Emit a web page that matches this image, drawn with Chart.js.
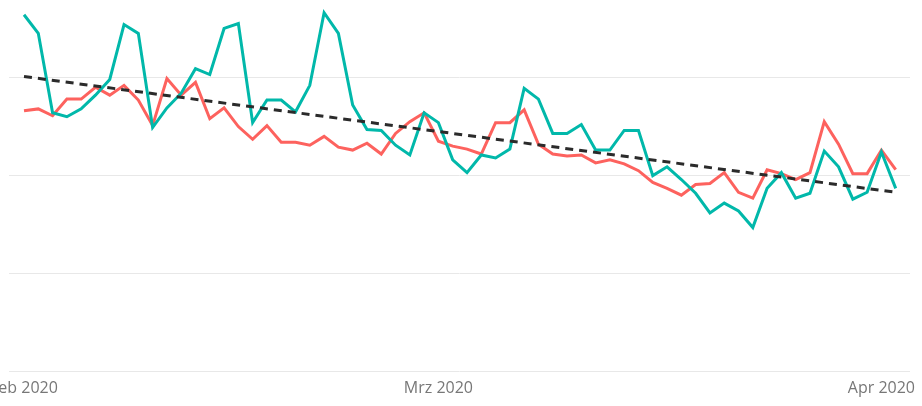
<!DOCTYPE html>
<html>
<head>
<meta charset="utf-8">
<script src="https://cdn.jsdelivr.net/npm/chart.js@4/dist/chart.umd.min.js"></script>
<style>
  html, body { margin: 0; padding: 0; background: #fff; }
  #wrap { position: relative; width: 922px; height: 406px; }
</style>
</head>
<body>
<div id="wrap"><canvas id="c"></canvas></div>
<script>
// Day index 0 = 1 Feb 2020 ... 61 = 2 Apr 2020
const categories = [
  '2020-02-01','2020-02-02','2020-02-03','2020-02-04','2020-02-05','2020-02-06','2020-02-07','2020-02-08','2020-02-09','2020-02-10',
  '2020-02-11','2020-02-12','2020-02-13','2020-02-14','2020-02-15','2020-02-16','2020-02-17','2020-02-18','2020-02-19','2020-02-20',
  '2020-02-21','2020-02-22','2020-02-23','2020-02-24','2020-02-25','2020-02-26','2020-02-27','2020-02-28','2020-02-29','2020-03-01',
  '2020-03-02','2020-03-03','2020-03-04','2020-03-05','2020-03-06','2020-03-07','2020-03-08','2020-03-09','2020-03-10','2020-03-11',
  '2020-03-12','2020-03-13','2020-03-14','2020-03-15','2020-03-16','2020-03-17','2020-03-18','2020-03-19','2020-03-20','2020-03-21',
  '2020-03-22','2020-03-23','2020-03-24','2020-03-25','2020-03-26','2020-03-27','2020-03-28','2020-03-29','2020-03-30','2020-03-31',
  '2020-04-01','2020-04-02'
];

const tealValues = [
  364,345,264,260,268,282,298,354,345,249,
  269,284,309,303,350,355,254,277,277,265,
  292,366,345,272,247,246,231,221,264,254,
  216,203,221,218,227,289,278,243,243,252,
  226,226,246,246,200,209,196,182,162,172,
  164,147,187,203,177,182,225,209,176,183,
  224,187
];

const redValues = [
  266,268,261,278,278,290,282,292,277,251,
  299,282,295,258,269,250,237,251,234,234,
  231,240,229,226,233,222,243,255,264,235,
  230,227,222,254,254,267,232,222,220,221,
  213,216,212,205,193,187,180,191,192,203,
  183,177,206,202,196,203,255,232,202,202,
  226,206
];

// Trend line (start / end values)
const trendCategories = ['2020-02-01', '2020-04-02'];
const trendValues = [301, 183];

const tickCategories = ['2020-02-01', '2020-03-01', '2020-04-01'];
const tickLabels = ['Feb 2020', 'Mrz 2020', 'Apr 2020'];

const idx = d => categories.indexOf(d);
const toPoints = vals => vals.map((v, i) => ({ x: i, y: v }));

new Chart(document.getElementById('c'), {
  type: 'line',
  data: {
    datasets: [
      {
        label: 'Trend',
        data: trendCategories.map((d, i) => ({ x: idx(d), y: trendValues[i] })),
        borderColor: '#2b2b2b',
        borderWidth: 3,
        borderDash: [8, 6],
        pointRadius: 0,
        tension: 0,
        order: 0
      },
      {
        label: 'Series A',
        data: toPoints(redValues),
        borderColor: '#FD625E',
        borderWidth: 3,
        pointRadius: 0,
        tension: 0,
        order: 2
      },
      {
        label: 'Series B',
        data: toPoints(tealValues),
        borderColor: '#01B8AA',
        borderWidth: 3,
        pointRadius: 0,
        tension: 0,
        order: 1
      }
    ]
  },
  options: {
    responsive: true,
    maintainAspectRatio: false,
    animation: false,
    layout: { autoPadding: false, padding: { left: 9, right: 12, top: 0, bottom: 1 } },
    plugins: { legend: { display: false }, tooltip: { enabled: false } },
    scales: {
      x: {
        type: 'linear',
        min: -1.05,
        max: 62.0,
        grid: { display: false, drawTicks: false },
        border: { display: false },
        afterBuildTicks: axis => { axis.ticks = tickCategories.map(d => ({ value: idx(d) })); },
        afterFit: axis => { axis.paddingLeft = 0; axis.paddingRight = 0; },
        ticks: {
          autoSkip: false,
          maxRotation: 0,
          padding: 7,
          color: '#777',
          font: { family: 'Open Sans', size: 16 },
          callback: (v) => tickLabels[tickCategories.map(idx).indexOf(v)]
        }
      },
      y: {
        min: 0,
        max: 379,
        grid: { color: '#e8e8e8', lineWidth: 1, drawTicks: false },
        border: { display: false },
        ticks: { display: false, stepSize: 100, includeBounds: false }
      }
    }
  }
});
</script>
</body>
</html>
